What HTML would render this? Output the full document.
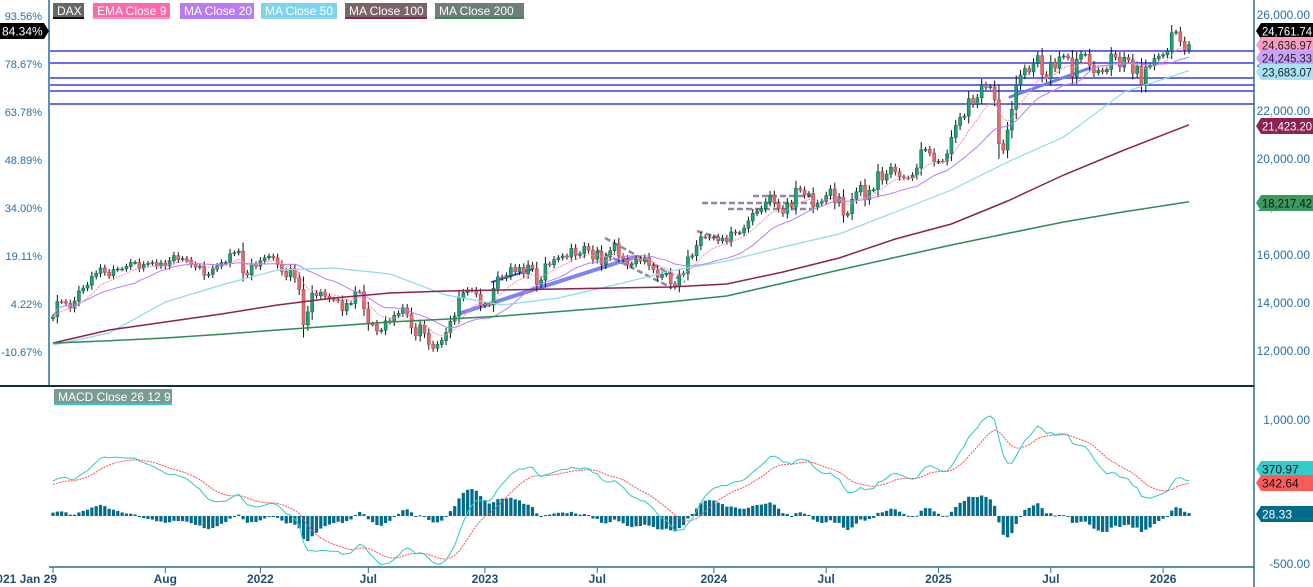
<!DOCTYPE html>
<html><head><meta charset="utf-8"><style>
html,body{margin:0;padding:0;background:#fff;width:1313px;height:587px;overflow:hidden}
svg{display:block;font-family:"Liberation Sans",sans-serif}
</style></head><body>
<svg id="chart" width="1313" height="587" viewBox="0 0 1313 587" xmlns="http://www.w3.org/2000/svg">
<g id="grid"></g><g id="draw"></g><g id="series"></g><g id="macd"></g><g id="axes"></g><g id="tags"></g>
</svg>
<script>
const closes=[13432,14056,14050,13993,13786,14080,14502,14621,14748,15107,15234,15459,15280,15136,15400,15417,15418,15520,15692,15693,15448,15607,15650,15688,15540,15669,15544,15761,15977,15808,15852,15781,15609,15490,15531,15156,15199,15415,15542,15688,15688,16054,16094,16160,15257,15169,15622,15531,15756,15885,
15948,15883,15603,15318,15100,15425,15042,14567,13094,13628,14413,14305,14446,14284,14163,14143,14098,13674,13981,13982,14462,14461,13762,13126,13118,12833,12865,13254,13210,13484,13573,13795,13545,12971,12630,13088,12741,12284,12114,12273,12437,12767,13243,13460,14224,14432,14541,14529,14370,13894,13941,13924,
14610,15087,15033,15150,15476,15307,15482,15210,15578,15428,14768,14957,15629,15598,15808,15882,15961,15914,16275,15983,16051,16358,16201,15830,16148,15603,15919,16177,16469,15952,15832,15574,15632,15840,15740,15894,15557,15387,15070,15186,15237,14798,14687,15189,15234,15919,15967,16398,16759,16751,16706,16752,
16594,16705,16555,16961,16918,16926,17118,17419,17735,17815,17936,18206,18492,18175,17930,17737,18161,18001,18772,18704,18498,18557,18002,18163,18235,18475,18748,18171,18418,17661,17723,18322,18633,18906,18301,18700,18720,19474,19121,19373,19657,19464,19255,19215,19211,19323,19626,20385,20406,20248,19885,19909,
19906,20214,20903,21394,21732,21787,22513,22287,22551,23087,22987,23009,22461,20642,20374,21206,22064,23087,23499,23767,23630,23997,24304,23516,23350,24033,23787,24255,24290,24218,23426,24163,24359,24363,23902,23597,23698,23639,23739,24379,24241,23831,24240,24124,23569,23877,23091,23836,23882,24187,24289,24340,24490,
25261,25297,24900,24539,24762];
const maIdx=[0,13,26,39,52,65,78,91,104,117,130,143,156,169,182,195,208,221,234,248,263];
const ma50=[12250,12750,14042,14750,15375,15458,15208,14333,13917,14208,14750,15333,15750,16333,16875,17792,18708,19875,20917,22792,23683];
const ma100=[12333,12875,13208,13542,13917,14208,14417,14500,14542,14583,14625,14667,14792,15292,15875,16667,17292,18250,19333,20375,21423];
const ma200=[12330,12430,12540,12700,12875,13040,13210,13330,13460,13640,13830,14050,14290,14830,15375,15900,16417,16900,17375,17800,18217];
const priceTicks=[26000,24000,22000,20000,18000,16000,14000,12000];
const pctTicks=["93.56%","78.67%","63.78%","48.89%","34.00%","19.11%","4.22%","-10.67%"];
const macdTicks=[1000,-500];
const timeLabels=["2021 Jan 29","Aug","2022","Jul","2023","Jul","2024","Jul","2025","Jul","2026"];
const timeIdx=[0,26,48,73,100,126,153,179,205,231,257];
const fibLevels=[24500,24000,23375,23083,22833,22292];

const NS="http://www.w3.org/2000/svg";
const N=closes.length, STEP=(1189-53)/(N-1);
const xI=i=>53+i*STEP;
const yP=p=>351-(p-12000)*0.024;
const yM=v=>516-v*0.096;
function mk(parent,tag,attrs){const e=document.createElementNS(NS,tag);for(const k in attrs)e.setAttribute(k,attrs[k]);document.getElementById(parent).appendChild(e);return e;}

let e;
e=mk('axes','line',{x1:49,y1:0,x2:49,y2:385,stroke:'#2b6c9a','stroke-width':1.5});


e=mk('axes','line',{x1:1254,y1:0,x2:1254,y2:587,stroke:'#2b6c9a','stroke-width':1.5});


e=mk('axes','line',{x1:0,y1:386,x2:1254,y2:386,stroke:'#10303f','stroke-width':2});


e=mk('axes','line',{x1:49,y1:567,x2:1254,y2:567,stroke:'#2b6c9a','stroke-width':1.5});



fibLevels.forEach(v=>{
  const y=Math.round(yP(v));
  const l=mk('draw','line',{x1:50,y1:y,x2:1254,y2:y,stroke:'#6b6bf0','stroke-width':2});
  
  
});
[[461,313,635,257,'#7a86f5',4],[492,282,533,269,'#3b4ff0',2],[1010,97,1090,68,'#6b7bf5',3]].forEach(a=>{
  const l=mk('draw','line',{x1:a[0],y1:a[1],x2:a[2],y2:a[3],stroke:a[4],'stroke-width':a[5],'stroke-linecap':'round'});
  
  
});
[[605,238,685,282],[597,250,672,288],[697,231,720,238],[753,196,815,196],[702,203,815,203],[728,209,812,209]].forEach(a=>{
  const l=mk('draw','line',{x1:a[0],y1:a[1],x2:a[2],y2:a[3],stroke:'#8a8aa2','stroke-width':2.5,'stroke-dasharray':'6 3'});
  
  
});

for(let i=0;i<N;i++){
  const c=closes[i], o=i?closes[i-1]:c-80;
  const w=Math.abs(c-o)*0.3+90;
  const hi=Math.max(o,c)+w, lo=Math.min(o,c)-w;
  const x=xI(i), up=c>=o;
  const wk=mk('series','line',{x1:x,y1:yP(hi),x2:x,y2:yP(lo),stroke:'#111','stroke-width':1});
  
  
  const t=yP(Math.max(o,c)), b=yP(Math.min(o,c));
  const r=mk('series','rect',{x:x-1.5,y:t,width:3,height:Math.max(1,b-t),fill:up?'#1ea276':'#e06c6f',stroke:up?'#0d6b4a':'#b54a4e','stroke-width':0.6});
  
  
}
function poly(pts,stroke,width,dash,name,parent){
  const p=mk(parent||'series','polyline',{points:pts.map(q=>q[0].toFixed(1)+','+q[1].toFixed(1)).join(' '),fill:'none',stroke:stroke,'stroke-width':width});
  if(dash)p.setAttribute('stroke-dasharray',dash);
  return p;
}
let ema=closes[0],emaPts=[],maPts=[];
for(let i=0;i<N;i++){
  ema=i?ema+(closes[i]-ema)*0.2:closes[0];emaPts.push([xI(i),yP(ema)]);
  let s=0,n=0;for(let j=Math.max(0,i-19);j<=i;j++){s+=closes[j];n++;}
  maPts.push([xI(i),yP(s/n)]);
}
let pl;
pl=poly(maPts,'#b57cff',1,null);


pl=poly(emaPts,'#ff86b4',1,'2 1');


pl=poly(maIdx.map((k,j)=>[xI(Math.min(k,N-1)),yP(ma50[j])]),'#8fd8ee',1.2,null);


pl=poly(maIdx.map((k,j)=>[xI(Math.min(k,N-1)),yP(ma100[j])]),'#8b2252',1.5,null);


pl=poly(maIdx.map((k,j)=>[xI(Math.min(k,N-1)),yP(ma200[j])]),'#2e8b57',1.5,null);



let e12=closes[0],e26=closes[0]-365,sig=330,mPts=[],sPts=[];
for(let i=0;i<N;i++){
  if(i){e12+=(closes[i]-e12)*2/13;e26+=(closes[i]-e26)*2/27;}
  const m=e12-e26; if(i)sig+=(m-sig)*0.2;
  mPts.push([xI(i),yM(m)]);sPts.push([xI(i),yM(sig)]);
  const h=m-sig, y0=yM(0), y1=yM(h);
  const r=mk('macd','rect',{x:xI(i)-1.6,y:Math.min(y0,y1),width:3.2,height:Math.max(1,Math.abs(y1-y0)),fill:'#006b8a'});
  
  
}
pl=poly(sPts,'#ff4d4d',1,'2 1','','macd');


pl=poly(mPts,'#2ec8c8',1,null,'','macd');



function txt(parent,x,y,s,attrs){const t=mk(parent,'text',Object.assign({x:x,y:y},attrs));t.textContent=s;return t;}
priceTicks.forEach(p=>{
  const t=txt('axes',1310,yP(p)+4,p.toLocaleString('en-US')+'.00',{'text-anchor':'end','font-size':12,fill:'#2a6fa8'});
  
  
});
pctTicks.forEach((s,j)=>{
  const t=txt('axes',42,16+j*48+4,s,{'text-anchor':'end','font-size':11,fill:'#2a6fa8'});
  
  
});
macdTicks.forEach(v=>{
  const t=txt('axes',1310,yM(v)+4,v.toLocaleString('en-US',{minimumFractionDigits:2}),{'text-anchor':'end','font-size':12,fill:'#2a6fa8'});
  
  
});
timeLabels.forEach((s,j)=>{
  const x=xI(timeIdx[j]);
  const k=mk('axes','line',{x1:x,y1:567,x2:x,y2:573,stroke:'#2b6c9a'});
  
  
  const t=txt('axes',j?x:57,583,s,{'text-anchor':j?'middle':'end','font-size':12,'font-weight':'bold',fill:'#1f4e79'});
  
  
});

function tag(x,y,w,s,bg,fg,left){
  const g=mk('tags','g',{});
  const pts=left?`${x},${y-8} ${x+w},${y-8} ${x+w+5},${y} ${x+w},${y+8} ${x},${y+8}`:`${x},${y} ${x+5},${y-8} ${x+w},${y-8} ${x+w},${y+8} ${x+5},${y+8}`;
  const p=document.createElementNS(NS,'polygon');p.setAttribute('points',pts);p.setAttribute('fill',bg);g.appendChild(p);
  const t=document.createElementNS(NS,'text');t.setAttribute('x',left?x+2:x+6);t.setAttribute('y',y+4.5);t.setAttribute('font-size',12);t.setAttribute('fill',fg);
  if(!left&&s.length>7){t.setAttribute('textLength',50);t.setAttribute('lengthAdjust','spacingAndGlyphs');}
  t.textContent=s;g.appendChild(t);
  return g;
}
let g;
g=tag(0,31,44,'84.34%','#000','#fff',true);


[[31,'24,761.74','#000','#fff','last-price-tag'],[45,'24,636.97','#ff9cc0','#222','ema-9-tag'],[58,'24,245.33','#c9a2ff','#222','ma-20-tag'],[72,'23,683.07','#a8e2f6','#222','ma-50-tag'],[126,'21,423.20','#8b2252','#fff','ma-100-tag'],[203,'18,217.42','#3a9a60','#111','ma-200-tag'],[469,'370.97','#33cccc','#111','macd-value-tag'],[483,'342.64','#ff5a5a','#111','signal-value-tag'],[514,'28.33','#006b8a','#fff','histogram-value-tag']].forEach(a=>{
  const q=tag(1256,a[0],57,a[1],a[2],a[3],false);
  
  
});

[[53,31,'DAX','#666','#111'],[93,77,'EMA  Close 9','#ff69a8','#ff8fc0'],[180,74,'MA  Close 20','#b97cf0','#b57cff'],[261,76,'MA  Close 50','#7fd3ef','#8fd8ee'],[345,82,'MA  Close 100','#7a6468','#8b2252'],[435,89,'MA  Close 200','#6f7f77','#2e8b57']].forEach(a=>{
  const lg=mk('tags','g',{});
  const r=document.createElementNS(NS,'rect');r.setAttribute('x',a[0]);r.setAttribute('y',3);r.setAttribute('width',a[1]);r.setAttribute('height',14);r.setAttribute('fill',a[3]);lg.appendChild(r);
  const u=document.createElementNS(NS,'rect');u.setAttribute('x',a[0]);u.setAttribute('y',17);u.setAttribute('width',a[1]);u.setAttribute('height',2);u.setAttribute('fill',a[4]);lg.appendChild(u);
  const t=document.createElementNS(NS,'text');t.setAttribute('x',a[0]+4);t.setAttribute('y',15);t.setAttribute('font-size',12);t.setAttribute('fill','#fff');t.textContent=a[2];lg.appendChild(t);
  
  
});
g=mk('tags','g',{});


(function(){const r=document.createElementNS(NS,'rect');r.setAttribute('x',54);r.setAttribute('y',389);r.setAttribute('width',118);r.setAttribute('height',15);r.setAttribute('fill','#7a9a94');g.appendChild(r);
const u=document.createElementNS(NS,'rect');u.setAttribute('x',54);u.setAttribute('y',403);u.setAttribute('width',118);u.setAttribute('height',2);u.setAttribute('fill','#2ec8c8');g.appendChild(u);
const t=document.createElementNS(NS,'text');t.setAttribute('x',58);t.setAttribute('y',401);t.setAttribute('font-size',12);t.setAttribute('fill','#fff');t.textContent='MACD  Close 26 12 9';g.appendChild(t);})();
</script>
</body></html>
